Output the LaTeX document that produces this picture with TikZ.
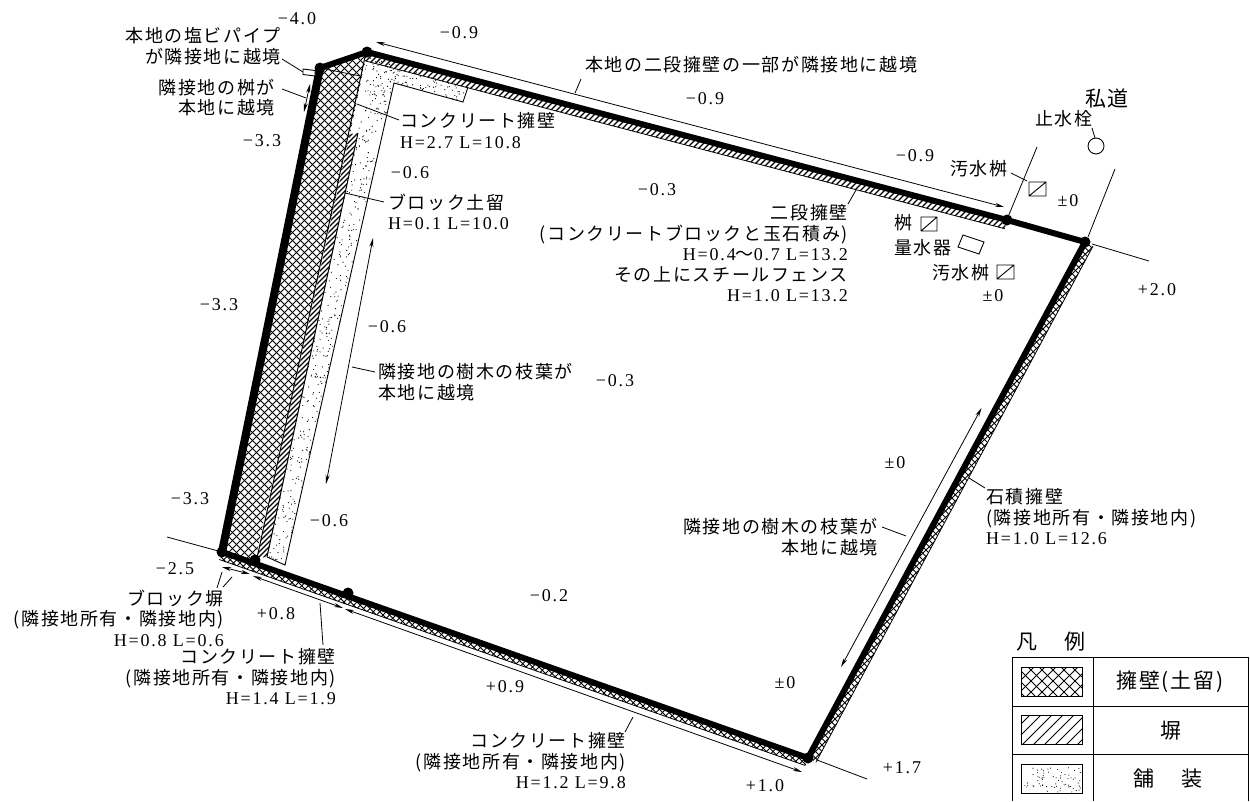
\documentclass[tikz,border=0pt]{standalone}
\usepackage{fontspec}
\usetikzlibrary{arrows.meta}
\setmainfont[LetterSpace=9]{Noto Sans CJK JP}
\newfontfamily\numfont[LetterSpace=10]{Liberation Serif}
\newcommand\nm[1]{{\numfont #1}}
\newcommand\xhatch[3]{\begin{scope}\clip #1;\foreach \i in {#2,...,1300}{\draw[line width=#3] (\i,0)--(\i+801,801) (\i+801,0)--(\i,801);}\end{scope}}
\newcommand\shatch[3]{\begin{scope}\clip #1;\foreach \i in {#2,...,1300}{\draw[line width=#3] (\i+801,0)--(\i,801);}\end{scope}}
\newcommand\lead[3]{\coordinate (#1a) at (#2);\coordinate (#1b) at (#3);\draw[leader] (#1a)--(#1b);}
\newcommand\dbl[3]{\coordinate (#1a) at (#2);\coordinate (#1b) at (#3);\draw[leader,arr] (#1a)--(#1b);}
\tikzset{
 lbl/.style={inner sep=0pt,font=\fontsize{18}{20.5}\selectfont},
 big/.style={inner sep=0pt,font=\fontsize{21}{24}\selectfont},
 vtx/.style={circle,fill=black,inner sep=0pt,minimum size=11pt},
 wall/.style={line width=6pt,line join=round,line cap=round},
 leader/.style={line width=0.8pt},
 arr/.style={{Stealth[length=9pt,width=4pt]}-{Stealth[length=9pt,width=4pt]}},
 thinbox/.style={draw,line width=0.9pt},
 swatch/.style={draw,line width=1pt}
}
\begin{document}
\begin{tikzpicture}[x=1pt,y=-1pt]
\useasboundingbox (0,0) rectangle (1250,801);
\fill[white] (0,0) rectangle (1250,801);
% vertices
\coordinate (Ap) at (320,68);\coordinate (Bp) at (367,52);\coordinate (Cp) at (1007,220);\coordinate (Dp) at (1085,242);\coordinate (Ep) at (808,758);\coordinate (Fp) at (222,552);\coordinate (Gp) at (255,560);\coordinate (Hp) at (348,593);
% paved surface
\def\pave{(367,57)--(378,59)--(468,87)--(463,102)--(394,83)--(285,565)--(267,557)--(358,133)--cycle}
\begin{scope}
\clip \pave;
\pgfmathsetseed{42}
\foreach \k in {1,...,620}{\pgfmathsetmacro\yy{57+rnd*510}\pgfmathsetmacro\xx{358-.2145*(\yy-133)+rnd*38}\fill (\xx,\yy) circle (0.6);}
\foreach \k in {1,...,190}{\pgfmathsetmacro\yy{55+rnd*50}\pgfmathsetmacro\xx{365+rnd*105}\fill (\xx,\yy) circle (0.6);}
\end{scope}
\draw[line width=0.9pt] (468,87)--(463,102)--(394,83)--(285,565)--(267,557);
% retaining wall
\xhatch{(Ap)--(Bp)--(350,134)--(Gp)--(Fp)--cycle}{-700,-692}{0.9pt}
\draw[line width=0.7pt] (Ap)--(360,76);
% fence-like strip
\shatch{(350,134)--(358,133)--(267,557)--(257,558)--cycle}{-600,-595}{1.2pt}
\draw[line width=1pt] (365,57)--(257,558) (358,133)--(267,557);
% boundary strips
\xhatch{(Dp)--(1092.9,246.3)--(815.9,762.3)--(Ep)--cycle}{-300,-293.5}{0.9pt}
\draw[line width=0.8pt] (1092.9,246.3)--(815.9,762.3);
\xhatch{(Fp)--(219.3,559.5)--(805.3,765.5)--(Ep)--cycle}{-700,-693.5}{0.9pt}
\draw[line width=0.8pt] (219.3,559.5)--(805.3,765.5);
\shatch{(Bp)--(364.7,60.7)--(1004.7,228.7)--(Cp)--cycle}{-500,-494}{1.1pt}
\draw[line width=0.8pt] (364.7,60.7)--(1004.7,228.7);
% extensions of lot lines
\lead{x1}{1008,217}{1037,147}
\lead{x2}{1088,237}{1115,169}
\lead{x3}{1092,244}{1149,261}
\lead{x4}{817,760}{867,779}
\lead{x5}{167,537}{222,552}
% main boundary
\draw[wall] (Ap)--(Bp)--(Cp)--(Dp)--(Ep)--(Fp);
\draw[wall,line width=8pt] (Fp)--(Ap);
\node[vtx] (A) at (Ap) {};\node[vtx] (B) at (Bp) {};\node[vtx] (C) at (Cp) {};\node[vtx] (D) at (Dp) {};\node[vtx] (E) at (Ep) {};\node[vtx] (F) at (Fp) {};\node[vtx] (G) at (Gp) {};\node[vtx] (H) at (Hp) {};
% pipe
\draw[thinbox,fill=white] (303,69)--(315,70.5)--(315,76)--(303,74.5)--cycle;
% arrows
\dbl{a1}{376,42}{1004,207}
\dbl{a2}{310,84}{304,112}
\dbl{a3}{373,238}{326,484}
\dbl{a4}{981.5,408}{841,667}
\dbl{a5}{222,567}{250,574}
\dbl{a6}{253,576}{343,608}
\dbl{a7}{345,609}{802,772}
% small objects
\node[draw,circle,line width=0.9pt,inner sep=0pt,minimum size=16pt] (stop) at (1096,146) {};
\draw[thinbox] (1029,182) rectangle (1046,196) (1029,196)--(1046,182);
\draw[thinbox] (921,217) rectangle (937,231) (921,231)--(937,217);
\draw[thinbox] (997,265) rectangle (1014,279) (997,279)--(1014,265);
\draw[thinbox] (963,235)--(984,242)--(979,254)--(958,247)--cycle;
% leaders
\lead{l1}{282,59}{303,72}
\lead{l2}{282,89}{306,98}
\lead{l3}{357,104}{399,120}
\lead{l4}{345,193}{384,202}
\lead{l5}{352,367}{375,372}
\lead{l6}{856,190}{848,204}
\lead{l7}{1092,128}{1095,138}
\lead{l8}{1011,173}{1027,181}
\lead{l9}{882,527}{906,536}
\lead{l10}{969,478}{985,488}
\lead{l11}{222,572}{217,588}
\lead{l12}{232,577}{223,587}
\lead{l13}{320,603}{323,645}
\lead{l14}{633,717}{625,732}
\lead{l15}{581,79}{575,93}
% elevations
\node[lbl] (e1) at (297,19) {\nm{−4.0}};
\node[lbl] (e2) at (459,33) {\nm{−0.9}};
\node[lbl] (e3) at (262,141) {\nm{−3.3}};
\node[lbl] (e4) at (410,173) {\nm{−0.6}};
\node[lbl] (e5) at (657,190) {\nm{−0.3}};
\node[lbl] (e6) at (705,99) {\nm{−0.9}};
\node[lbl] (e7) at (915,156) {\nm{−0.9}};
\node[lbl] (e8) at (1068,201) {\nm{±0}};
\node[lbl] (e9) at (993,296) {\nm{±0}};
\node[lbl] (e10) at (1157,290) {\nm{+2.0}};
\node[lbl] (e11) at (219,305) {\nm{−3.3}};
\node[lbl] (e12) at (387,327) {\nm{−0.6}};
\node[lbl] (e13) at (615,381) {\nm{−0.3}};
\node[lbl] (e14) at (895,463) {\nm{±0}};
\node[lbl] (e15) at (190,499) {\nm{−3.3}};
\node[lbl] (e16) at (329,521) {\nm{−0.6}};
\node[lbl] (e17) at (175,569) {\nm{−2.5}};
\node[lbl] (e18) at (276,614) {\nm{+0.8}};
\node[lbl] (e19) at (549,596) {\nm{−0.2}};
\node[lbl] (e20) at (505,687) {\nm{+0.9}};
\node[lbl] (e21) at (785,683) {\nm{±0}};
\node[lbl] (e22) at (765,786) {\nm{+1.0}};
\node[lbl] (e23) at (902,768) {\nm{+1.7}};
% labels
\node[lbl,align=right,anchor=east] (t1) at (281,46) {本地の塩ビパイプ\\が隣接地に越境};
\node[lbl,align=right,anchor=east] (t2) at (275,97.5) {隣接地の桝が\\本地に越境};
\node[lbl,align=left,anchor=west] (t3) at (400,130.5) {コンクリート擁壁\\\nm{H=2.7 L=10.8}};
\node[lbl,align=left,anchor=west] (t4) at (388,212) {ブロック土留\\\nm{H=0.1 L=10.0}};
\node[lbl,align=left,anchor=west] (t5) at (378,382) {隣接地の樹木の枝葉が\\本地に越境};
\node[lbl,anchor=west] (t6) at (585,65) {本地の二段擁壁の一部が隣接地に越境};
\node[lbl,align=right,anchor=east] (t7) at (848,253.5) {二段擁壁\\(コンクリートブロックと玉石積み)\\\nm{H=0.4}〜\nm{0.7 L=13.2}\\その上にスチールフェンス\\\nm{H=1.0 L=13.2}};
\node[lbl,align=right,anchor=east] (t8) at (878,537) {隣接地の樹木の枝葉が\\本地に越境};
\node[lbl,align=left,anchor=west] (t9) at (986,517) {石積擁壁\\(隣接地所有・隣接地内)\\\nm{H=1.0 L=12.6}};
\node[lbl,align=right,anchor=east] (t10) at (224,618) {ブロック塀\\(隣接地所有・隣接地内)\\\nm{H=0.8 L=0.6}};
\node[lbl,align=right,anchor=east] (t11) at (336,677) {コンクリート擁壁\\(隣接地所有・隣接地内)\\\nm{H=1.4 L=1.9}};
\node[lbl,align=right,anchor=east] (t12) at (626,761) {コンクリート擁壁\\(隣接地所有・隣接地内)\\\nm{H=1.2 L=9.8}};
\node[big] (t13) at (1107,99) {私道};
\node[lbl] (t14) at (1064,119) {止水栓};
\node[lbl] (t15) at (979,169) {汚水桝};
\node[lbl] (t16) at (903,223) {桝};
\node[lbl] (t17) at (923,248) {量水器};
\node[lbl] (t18) at (961,273) {汚水桝};
% legend
\node[big] (g0) at (1051,642) {凡\hspace{27pt}例};
\draw[line width=1pt] (1012,801)--(1012,657)--(1248,657)--(1248,801);
\draw[line width=1pt] (1093,657)--(1093,801) (1012,706)--(1248,706) (1012,754)--(1248,754);
\xhatch{(1021,667) rectangle (1082,696)}{-200,-189}{0.9pt}
\shatch{(1021,715) rectangle (1082,744)}{-200,-189}{0.9pt}
\begin{scope}
\clip (1021,764) rectangle (1082,793);
\foreach \k in {1,...,70}{\pgfmathsetmacro\xx{1023+rnd*58}\pgfmathsetmacro\yy{766+rnd*26}\fill (\xx,\yy) circle (0.55);}
\end{scope}
\draw[swatch] (1021,667) rectangle (1082,696) (1021,715) rectangle (1082,744) (1021,764) rectangle (1082,793);
\node[big] (g1) at (1170,682) {擁壁(土留)};
\node[big] (g2) at (1171,731) {塀};
\node[big] (g3) at (1168,779) {舗\hspace{27pt}装};
\end{tikzpicture}
\end{document}
